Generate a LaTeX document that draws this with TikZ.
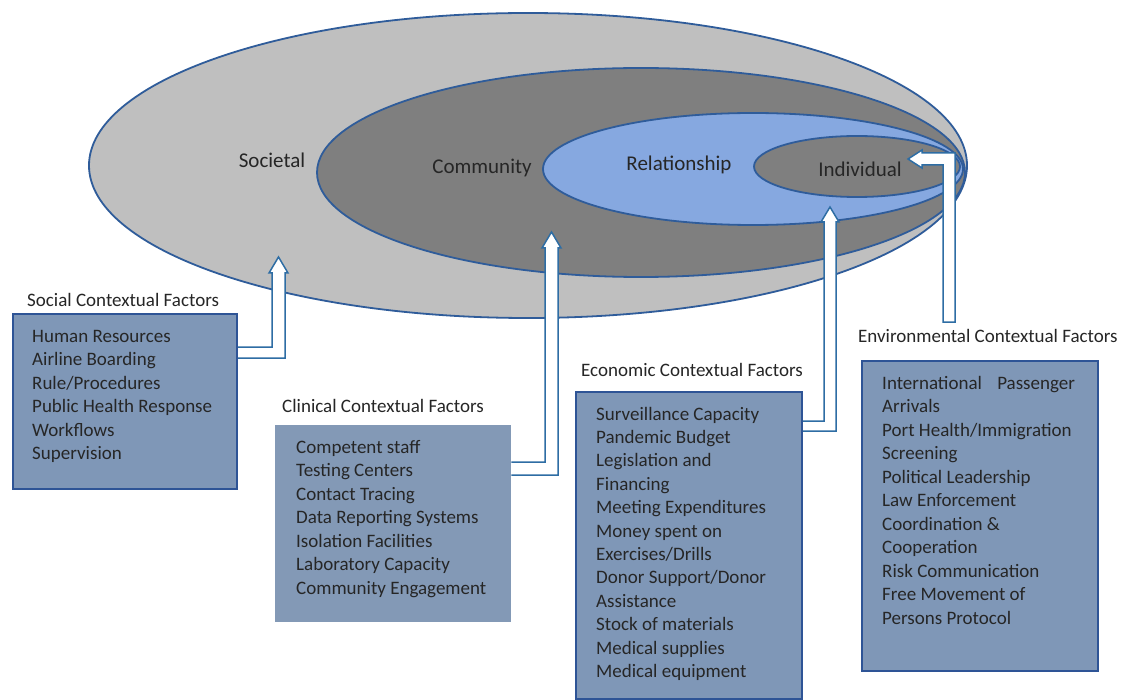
\documentclass[tikz,border=0pt]{standalone}
\usepackage{fontspec}
\setmainfont{Carlito}
\usetikzlibrary{calc}
\definecolor{ringline}{HTML}{2F5C9A}
\definecolor{outerfill}{HTML}{BFBFBF}
\definecolor{midfill}{HTML}{7F7F7F}
\definecolor{relfill}{HTML}{86A8E0}
\definecolor{boxfill}{HTML}{7F97B7}
\definecolor{clinfill}{HTML}{8399B6}
\definecolor{boxline}{HTML}{2E5496}
\definecolor{arrowline}{HTML}{2E6DA4}
\definecolor{txt}{HTML}{262626}
\begin{document}
\begin{tikzpicture}[x=1pt,y=-1pt,
  ring/.style={draw=ringline, line width=1.8pt},
  ringlabel/.style={font=\fontsize{21}{25}\selectfont, text=txt, anchor=base, inner sep=0pt},
  factorbox/.style={fill=boxfill, draw=boxline, line width=2.2pt, anchor=north west, inner sep=0pt},
  plainbox/.style={fill=clinfill, anchor=north west, inner sep=0pt},
  boxtitle/.style={font=\fontsize{19}{23}\selectfont, text=txt, anchor=base west, inner sep=0pt},
  item/.style={font=\fontsize{19}{23}\selectfont, text=txt, anchor=base west, inner sep=0pt},
  blockarrow/.style={fill=white, draw=arrowline, line width=1.5pt, line join=miter}]
\useasboundingbox (0,0) rectangle (1123,700);
\fill[white] (0,0) rectangle (1123,700);
% nested ellipses
\draw[ring, fill=outerfill] (528,165.5) ellipse [x radius=439pt, y radius=152.5pt];
\draw[ring, fill=midfill] (641,172.5) ellipse [x radius=324pt, y radius=104.5pt];
\draw[ring, fill=relfill] (753,169) ellipse [x radius=210pt, y radius=56pt];
\draw[ring, fill=midfill] (857,166.5) ellipse [x radius=103pt, y radius=30.5pt];
% ring labels
\node[ringlabel] (lsoc) at (272,168) {Societal};
\node[ringlabel] (lcom) at (482,174) {Community};
\node[ringlabel] (lrel) at (679,171) {Relationship};
\node[ringlabel] (lind) at (860,177) {Individual};
% boxes
\node[factorbox, minimum width=224pt, minimum height=175pt] (socbox) at (12,313) {};
\node[plainbox, minimum width=236pt, minimum height=197pt] (clinbox) at (275,425) {};
\node[factorbox, minimum width=226pt, minimum height=307pt] (econbox) at (575,391) {};
\node[factorbox, minimum width=236pt, minimum height=310pt] (envbox) at (861,360) {};
% block arrows
\draw[blockarrow] (socbox.east |- 0,358) -- (285,358) -- (285,273) -- (288,273) -- (278.5,257)
  -- (269,273) -- (272,273) -- (272,347) -- (socbox.east |- 0,347);
\draw[blockarrow] (clinbox.east |- 0,475) -- (558,475) -- (558,248) -- (561,248) -- (551.5,232)
  -- (542,248) -- (545,248) -- (545,462) -- (clinbox.east |- 0,462);
\draw[blockarrow] (econbox.east |- 0,431) -- (836,431) -- (836,222) -- (839,222) -- (830,207)
  -- (821,222) -- (824,222) -- (824,421) -- (econbox.east |- 0,421);
\coordinate (envfoot) at (943,322);
\draw[blockarrow] (envfoot) -- (955,322) -- (955,153) -- (922,153) -- (922,150) -- (908,159)
  -- (922,168) -- (922,165) -- (943,165) -- cycle;
% titles
\node[boxtitle] (tsoc) at (27,306) {Social Contextual Factors};
\node[boxtitle] (tclin) at (282,412) {Clinical Contextual Factors};
\node[boxtitle] (tecon) at (581,376) {Economic Contextual Factors};
\node[boxtitle] (tenv) at (858,342) {Environmental Contextual Factors};
% items
\foreach \t [count=\i] in {Human Resources, Airline Boarding, Rule/Procedures, Public Health Response, Workflows, Supervision}
  \node[item] (soc\i) at (32,{342+23.5*(\i-1)}) {\t};
\foreach \t [count=\i] in {Competent staff, Testing Centers, Contact Tracing, Data Reporting Systems, Isolation Facilities, Laboratory Capacity, Community Engagement}
  \node[item] (clin\i) at (296,{453+23.5*(\i-1)}) {\t};
\foreach \t [count=\i] in {Surveillance Capacity, Pandemic Budget, Legislation and, Financing, Meeting Expenditures, Money spent on, Exercises/Drills, Donor Support/Donor, Assistance, Stock of materials, Medical supplies, Medical equipment}
  \node[item] (econ\i) at (596,{420+23.4*(\i-1)}) {\t};
\foreach \t [count=\i] in {International\hspace{11pt} Passenger, Arrivals, Port Health/Immigration, Screening, Political Leadership, Law Enforcement, Coordination \&, Cooperation, Risk Communication, Free Movement of, Persons Protocol}
  \node[item] (env\i) at (882,{389+23.5*(\i-1)}) {\t};
\end{tikzpicture}
\end{document}
